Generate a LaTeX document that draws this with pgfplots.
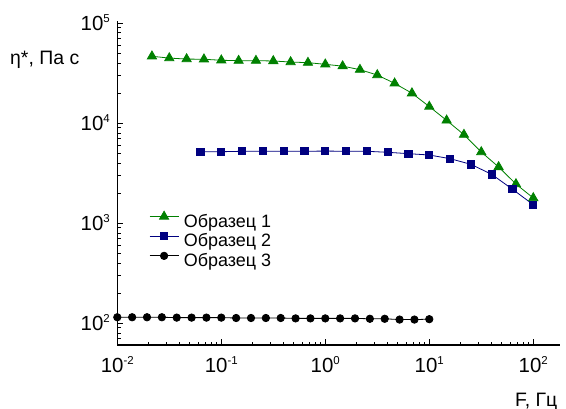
\documentclass[border=0pt]{standalone}
\usepackage{fontspec}
\setmainfont{Liberation Sans}
\usepackage{pgfplots}
\pgfplotsset{compat=1.18}

\definecolor{sgreen}{RGB}{0,128,0}
\definecolor{snavy}{RGB}{0,0,128}

% power-of-ten tick label set in the text font
\newcommand\pw[1]{10\raisebox{8.2bp}{\fontsize{11.5}{12}\selectfont #1}}

\begin{document}
\begin{tikzpicture}
\begin{axis}[
  name=ax,
  scale only axis,
  width=442.7bp, height=324.3bp,
  xmode=log, ymode=log,
  log basis x=10, log basis y=10,
  xmin=0.01, xmax=180.7,
  ymin=60.7, ymax=106200,
  axis x line=bottom, axis y line=left,
  axis line style={-, line width=1.2bp, black},
  tick align=inside,
  major tick length=6bp, minor tick length=3.5bp,
  every tick/.style={black, line width=1bp},
  xticklabel={\pgfmathparse{int(round(\tick))}\pw{\pgfmathresult}},
  yticklabel={\pgfmathparse{int(round(\tick))}\pw{\pgfmathresult}},
  ticklabel style={font=\fontsize{20.5}{22}\selectfont, inner sep=0pt},
  xticklabel style={anchor=base, yshift=-28bp},
  yticklabel style={anchor=base east, xshift=-7.3bp, yshift=-7.3bp},
  legend style={
    at={(0.0716,0.413)}, anchor=north west,
    draw=none, fill=none, inner sep=0pt,
    font=\fontsize{18}{20}\selectfont,
    nodes={inner sep=0pt, text height=13bp, text depth=4bp},
    row sep=1.5bp,
    /tikz/every odd column/.append style={column sep=5bp},
  },
  legend cell align=left,
  legend image code/.code={
    \draw[mark repeat=2, mark phase=2]
      plot coordinates {(0bp,6bp) (14.5bp,6bp) (29bp,6bp)};
  },
]

% Образец 1
\addplot[color=sgreen, line width=0.8bp, mark=triangle*, mark size=5.3bp]
  coordinates {
  (0.02154,46800) (0.03162,44900) (0.04642,43900) (0.06813,43700)
  (0.1,42700) (0.1468,42300) (0.2154,42300) (0.3162,42000)
  (0.4642,41000) (0.6813,40400) (1,38900) (1.468,37300)
  (2.154,34400) (3.162,30400) (4.642,25100) (6.813,20000)
  (10,14700) (14.68,10700) (21.54,7700) (31.62,5160)
  (46.42,3660) (68.13,2470) (100,1790)
  };
\addlegendentry{Образец 1}

% Образец 2
\addplot[color=snavy, line width=0.8bp, mark=square*, mark size=3.6bp]
  coordinates {
  (0.0631,5200) (0.1,5200) (0.1585,5250) (0.2512,5250)
  (0.3981,5250) (0.631,5250) (1,5280) (1.585,5250)
  (2.512,5250) (3.981,5130) (6.31,4970) (10,4820)
  (15.85,4430) (25.12,3890) (39.81,3090) (63.1,2190) (100,1535)
  };
\addlegendentry{Образец 2}

% Образец 3
\addplot[color=black, line width=0.8bp, mark=*, mark size=3.7bp]
  coordinates {
  (0.01,115) (0.01389,115) (0.01931,115) (0.02683,115)
  (0.03728,114) (0.0518,114) (0.07197,114) (0.1,114)
  (0.1389,113) (0.1931,113) (0.2683,113) (0.3728,113)
  (0.518,112) (0.7197,112) (1,112) (1.389,112)
  (1.931,112) (2.683,111) (3.728,111) (5.18,109)
  (7.197,109) (10,110)
  };
\addlegendentry{Образец 3}
\end{axis}

% axis titles
\node[anchor=base west, inner sep=0pt, font=\fontsize{19.5}{21}\selectfont]
  at ([shift={(-107.3bp,280bp)}]ax.south west) {η*, Па с};
\node[anchor=base west, inner sep=0pt, font=\fontsize{19.5}{21}\selectfont]
  at ([shift={(397.7bp,-61bp)}]ax.south west) {F, Гц};

\pgfresetboundingbox
\path[use as bounding box]
  ([shift={(-117.3bp,-64bp)}]ax.south west)
  rectangle ([shift={(6bp,20.7bp)}]ax.north east);
\end{tikzpicture}
\end{document}
